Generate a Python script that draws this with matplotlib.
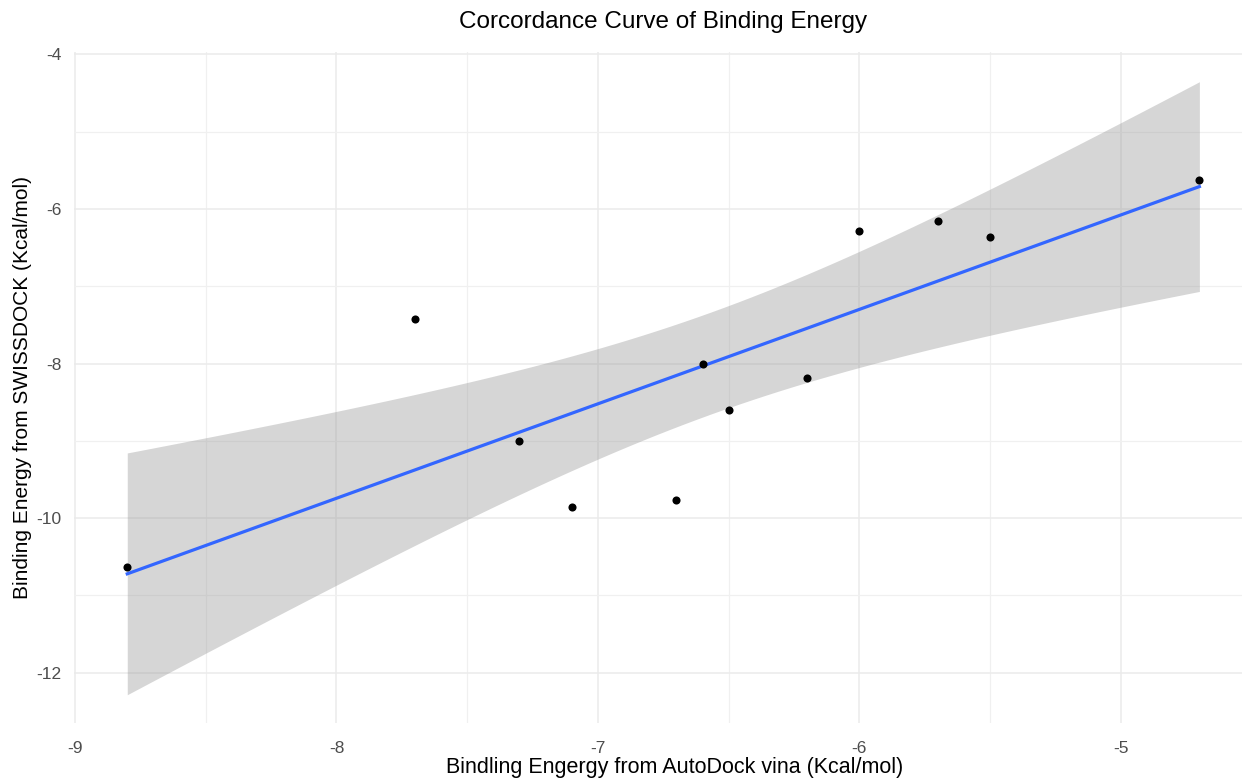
import numpy as np
import matplotlib
matplotlib.use("Agg")
import matplotlib.pyplot as plt
import matplotlib.ticker as ticker

# === Data ===
vina = [-8.8, -7.7, -7.3, -7.1, -6.7, -6.6, -6.5, -6.2, -6.0, -5.7, -5.5, -4.7]
swiss = [-10.63, -7.43, -9.0, -9.85, -9.77, -8.0, -8.6, -8.19, -6.29, -6.15, -6.36, -5.63]

title = "Corcordance Curve of Binding Energy"
xlabel = "Bindling Engergy from AutoDock vina (Kcal/mol)"
ylabel = "Binding Energy from SWISSDOCK (Kcal/mol)"

x = np.array(vina)
y = np.array(swiss)

# === Linear fit with 95% confidence band (like geom_smooth(method="lm")) ===
n = len(x)
slope, intercept = np.polyfit(x, y, 1)
resid = y - (slope * x + intercept)
s = np.sqrt(np.sum(resid ** 2) / (n - 2))
sxx = np.sum((x - x.mean()) ** 2)
t_crit = 2.228  # t(0.975, df=10)

xs = np.linspace(x.min(), x.max(), 80)
ys = slope * xs + intercept
se = s * np.sqrt(1.0 / n + (xs - x.mean()) ** 2 / sxx)
lo = ys - t_crit * se
hi = ys + t_crit * se

plt.rcParams['font.family'] = ['Liberation Sans', 'DejaVu Sans']

fig = plt.figure(figsize=(12.42, 7.8), dpi=100)
ax = fig.add_axes([0.0593, 0.0731, 0.9407, 0.8602])

ax.fill_between(xs, lo, hi, color='#999999', alpha=0.4, linewidth=0, zorder=2)
ax.plot(xs, ys, color='#3366FF', linewidth=2.3, zorder=3)
ax.scatter(x, y, s=34, color='black', linewidths=0, zorder=4)

ax.set_xlim(-9.005, -4.537)
ax.set_ylim(-12.65, -3.97)

# === Grid like theme_minimal ===
ax.xaxis.set_major_locator(ticker.MultipleLocator(1))
ax.xaxis.set_minor_locator(ticker.MultipleLocator(0.5))
ax.yaxis.set_major_locator(ticker.MultipleLocator(2))
ax.yaxis.set_minor_locator(ticker.MultipleLocator(1))
ax.grid(which='major', color='#EBEBEB', linewidth=1.1, zorder=0)
ax.grid(which='minor', color='#F0F0F0', linewidth=0.9, zorder=0)
ax.set_axisbelow(True)

for sp in ax.spines.values():
    sp.set_visible(False)
ax.tick_params(which='both', length=0)
ax.tick_params(axis='both', labelsize=12.5, labelcolor='#4D4D4D')
ax.tick_params(axis='x', pad=13)
ax.tick_params(axis='y', pad=9)
ax.xaxis.set_major_formatter(ticker.FuncFormatter(lambda v, p: f"{v:g}"))
ax.yaxis.set_major_formatter(ticker.FuncFormatter(lambda v, p: f"{v:g}"))

ax.set_ylabel(ylabel, fontsize=15, color='black', labelpad=3)
# x label sits right at the bottom edge, as in the reference
fig.text(0.5435, 0.003, xlabel, fontsize=15.5, ha='center', va='bottom')
fig.text(0.534, 0.9635, title, fontsize=17.5, ha='center', va='baseline')

fig.savefig("out.png", dpi=100)
